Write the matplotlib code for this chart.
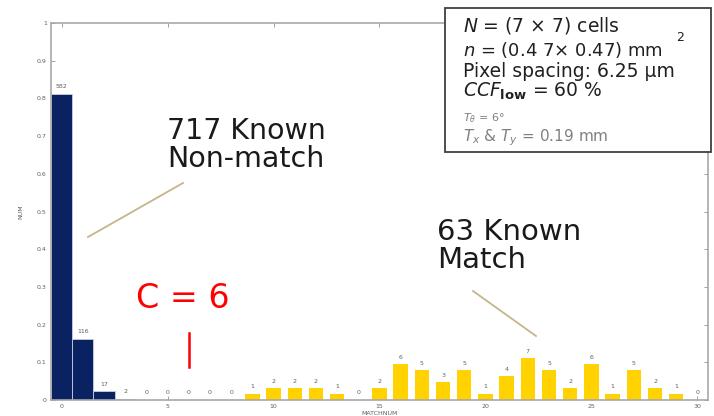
import numpy as np
import matplotlib
matplotlib.use("Agg")
import matplotlib.pyplot as plt
from matplotlib.patches import Rectangle
from matplotlib.lines import Line2D

plt.rcParams['font.family'] = ['DejaVu Sans']

# Known non-match (717 pairs) and known match (63 pairs) histograms of CMC number
nonmatch_bins = [0, 1, 2, 3]
nonmatch_counts = [582, 116, 17, 2]
match_bins = list(range(4, 31))
match_counts = [0, 0, 0, 0, 0, 1, 2, 2, 2, 1, 0, 2, 6, 5, 3, 5, 1, 4, 7, 5, 2, 6, 1, 5, 2, 1, 0]

n_nonmatch = 717
n_match = 63

navy = '#0b2262'
gold = '#ffd200'
gray = '#606060'

W, H = 714, 416
fig = plt.figure(figsize=(W / 100, H / 100), dpi=100)
ax = fig.add_axes([51 / W, 1 - 400 / H, (708 - 51) / W, (400 - 23) / H])

nm = np.array(nonmatch_counts) / n_nonmatch
mt = np.array(match_counts) / n_match
ax.bar(nonmatch_bins, nm, width=1.0, color=navy, edgecolor='#c8d0e0', linewidth=0.6, zorder=2)
ax.bar(match_bins, mt, width=0.68, color=gold, edgecolor='none', zorder=2)

for x, h, c in zip(nonmatch_bins, nm, nonmatch_counts):
    ax.text(x, h + 0.012, str(c), ha='center', va='bottom', fontsize=4.5, color=gray)
for x, h, c in zip(match_bins, mt, match_counts):
    ax.text(x, h + 0.012, str(c), ha='center', va='bottom', fontsize=4.5, color=gray)

ax.set_xlim(-0.5, 30.5)
ax.set_ylim(0, 1)
ax.set_xticks(range(0, 31, 5))
ax.set_yticks(np.arange(0, 1.01, 0.1))
ax.set_yticklabels(['0', '0.1', '0.2', '0.3', '0.4', '0.5', '0.6', '0.7', '0.8', '0.9', '1'])
ax.tick_params(direction='in', length=3, width=0.6, labelsize=4.5, labelcolor=gray,
               color='#909090', top=True, right=True, pad=3)
for s in ax.spines.values():
    s.set_color('#a8a8a8')
    s.set_linewidth(1.2)
ax.set_xlabel('MATCHNUM', fontsize=4.5, color=gray, labelpad=1)
ax.set_ylabel('NUM', fontsize=4.5, color=gray, labelpad=10)

# red mark at C = 6
ax.plot([6, 6], [0.088, 0.178], color='red', lw=1.8)

def fx(px):
    return px / W

def fy(py):
    return 1 - py / H

# annotation texts
fig.text(fx(167), fy(139), '717 Known', fontsize=20.5, color='#1a1a1a', va='baseline')
fig.text(fx(167), fy(167), 'Non-match', fontsize=20.5, color='#1a1a1a', va='baseline')
fig.text(fx(437), fy(240), '63 Known', fontsize=21, color='#1a1a1a', va='baseline')
fig.text(fx(437), fy(268), 'Match', fontsize=21, color='#1a1a1a', va='baseline')
fig.text(fx(136), fy(308), 'C = 6', fontsize=24, color='red', va='baseline')

tan = '#c4b58a'
fig.add_artist(Line2D([fx(88), fx(183)], [fy(237), fy(183)], color=tan, lw=1.3))
fig.add_artist(Line2D([fx(473), fx(536)], [fy(291), fy(336)], color=tan, lw=1.3))

# parameter box
fig.add_artist(Rectangle((fx(445), fy(152)), (711 - 445) / W, (152 - 8) / H,
                         facecolor='white', edgecolor='#404040', lw=1.3, zorder=5))
tx = fx(463)
fig.text(tx, fy(32), r'$N$ = (7 × 7) cells', fontsize=13.5, color='#202020', va='baseline', zorder=6)
fig.text(tx, fy(56), r'$n$ = (0.4 7× 0.47) mm', fontsize=13, color='#202020', va='baseline', zorder=6)
fig.text(fx(676), fy(41), '2', fontsize=9, color='#202020', va='baseline', zorder=6)
fig.text(tx, fy(77), r'Pixel spacing: 6.25 μm', fontsize=13.5, color='#202020', va='baseline', zorder=6)
fig.text(tx, fy(97), r'$CCF_{\mathbf{low}}$ = 60 %', fontsize=13.5, color='#202020', va='baseline', zorder=6)
fig.text(tx, fy(121), r'$T_\theta$ = 6°', fontsize=8, color='#808080', va='baseline', zorder=6)
fig.text(tx, fy(141), r'$T_x$ & $T_y$ = 0.19 mm', fontsize=11, color='#808080', va='baseline', zorder=6)

fig.savefig('out.png', dpi=100, facecolor='white')
